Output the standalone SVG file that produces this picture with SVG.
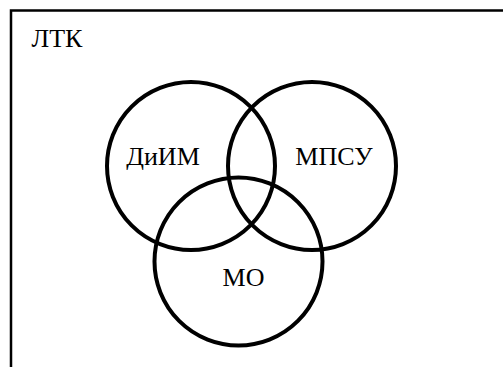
<svg xmlns="http://www.w3.org/2000/svg" width="503" height="367" viewBox="0 0 503 367">
  <style>
    .set { fill: none; stroke: #000; stroke-width: 4; }
    .frame { fill: none; stroke: #000; stroke-width: 2.5; }
    .label { font-family: 'Liberation Serif', 'Times New Roman', serif; font-size: 26px; fill: #000; text-anchor: middle; }
  </style>
  <rect width="503" height="367" fill="#fff"/>
  <!-- outer universe frame, open towards right and bottom -->
  <g id="ltk">
    <path class="frame" d="M11 367 V10.5 H503"/>
    <text class="label" x="57" y="47">ЛТК</text>
  </g>
  <g id="dim">
    <circle class="set" cx="191" cy="166" r="84"/>
    <text class="label" x="163" y="165">ДиИМ</text>
  </g>
  <g id="mpsu">
    <circle class="set" cx="312" cy="166" r="84"/>
    <text class="label" x="334" y="165">МПСУ</text>
  </g>
  <g id="mo">
    <circle class="set" cx="238.5" cy="261.5" r="84"/>
    <text class="label" x="243.5" y="286">МО</text>
  </g>
  <g id="connectors"/>
</svg>
